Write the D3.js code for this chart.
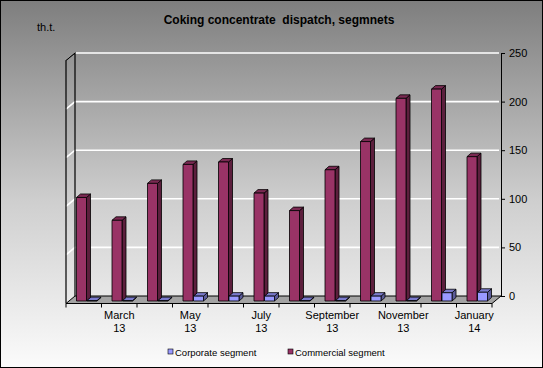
<!DOCTYPE html>
<html><head><meta charset="utf-8">
<script src="https://cdn.jsdelivr.net/npm/d3@7"></script>
<style>body{margin:0;padding:0;overflow:hidden}svg{display:block;font-family:"Liberation Sans",Arial,sans-serif}</style>
</head><body>
<script>
const categories = ["February 13","March 13","April 13","May 13","June 13","July 13","August 13","September 13","October 13","November 13","December 13","January 14"];
const tickLabels = ["", "March\n13", "", "May\n13", "", "July\n13", "", "September\n13", "", "November\n13", "", "January\n14"];
const corporate = [0.4, 0.4, 0.4, 5, 5, 5, 0.4, 0.4, 5, 0.4, 8.5, 9];
const commercial = [106.5, 83, 121, 140.5, 143, 111, 93, 135, 164, 208.5, 218, 148.5];
const yTicks = [0, 50, 100, 150, 200, 250];
const seriesNames = ["Corporate segment", "Commercial segment"];

const W = 543, H = 368;
const svg = d3.select("body").append("svg").attr("width", W).attr("height", H);
const defs = svg.append("defs");
const g = defs.append("linearGradient").attr("id","bg").attr("x1",0).attr("y1",0).attr("x2",0).attr("y2",1);
g.append("stop").attr("offset","0%").attr("stop-color","#7e7e7e");
g.append("stop").attr("offset","55%").attr("stop-color","#cfcfcf");
g.append("stop").attr("offset","100%").attr("stop-color","#fbfbfb");
svg.append("rect").attr("x",0.5).attr("y",0.5).attr("width",W-1).attr("height",H-1).attr("fill","url(#bg)").attr("stroke","#000");

// geometry
const frontY = 303.5, left = 66, right = 492, ddx = 9, ddy = -7.5;
const x = d3.scaleBand().domain(categories).range([left, right]);
const y = d3.scaleLinear().domain([0, 250]).range([frontY + ddy, 53]);   // back wall
const yb = d3.scaleLinear().domain([0, 250]).range([301, 301 - 243]);    // bar front faces

// walls
const backL = left + ddx, backR = right + ddx;
// gridlines on back wall and side wall
svg.append("g").selectAll("path").data(yTicks.filter(t => t > 0)).join("path")
  .attr("d", t => `M${left},${y(t) - ddy}L${backL},${y(t)}L${backR - 2},${y(t)}`)
  .attr("fill","none").attr("stroke","#fff").attr("stroke-width",1.6);
// left wall edges
svg.append("path").attr("d", `M${left},${frontY}L${left},${y(250) - ddy}L${backL},${y(250)}L${backL},${y(0)}`)
  .attr("fill","none").attr("stroke","#000").attr("stroke-width",1.2);
// floor
svg.append("path").attr("d", `M${left},${frontY}L${backL},${y(0)}L${backR},${y(0)}L${right},${frontY}Z`)
  .attr("fill","#a3a3a3").attr("stroke","#000").attr("stroke-width",1);

// right axis
const yAxis = svg.append("g").attr("transform", `translate(${backR},0)`)
  .call(d3.axisRight(y).tickValues(yTicks).tickSize(4).tickPadding(4).tickSizeOuter(0));
yAxis.select(".domain").attr("stroke","#000");
yAxis.selectAll("text").attr("font-size", 11).attr("fill","#000").attr("font-family","Liberation Sans, Arial, sans-serif");

// bottom ticks at category boundaries
const bounds = categories.map(c => x(c)).concat([right]);
svg.append("g").selectAll("line").data(bounds).join("line")
  .attr("x1", d => d).attr("x2", d => d).attr("y1", frontY).attr("y2", frontY + 4)
  .attr("stroke","#000");

// bars
const colors = {
  "Commercial segment": {front:"#993366", side:"#5c1f3d", top:"#7a2952"},
  "Corporate segment": {front:"#9999ff", side:"#5c5c99", top:"#7a7acc"}
};
const bw = 10, bdx = 4, bdy = -3.5;
function drawBar(sel, x0, v, col) {
  const yt = yb(v), y0 = yb(0);
  const gg = sel.append("g").attr("stroke","#000").attr("stroke-width",0.8).attr("stroke-linejoin","round");
  gg.append("path").attr("d", `M${x0+bw},${y0}L${x0+bw+bdx},${y0+bdy}L${x0+bw+bdx},${yt+bdy}L${x0+bw},${yt}Z`).attr("fill", col.side);
  gg.append("path").attr("d", `M${x0},${yt}L${x0+bdx},${yt+bdy}L${x0+bw+bdx},${yt+bdy}L${x0+bw},${yt}Z`).attr("fill", col.top);
  gg.append("rect").attr("x", x0).attr("y", yt).attr("width", bw).attr("height", Math.max(0, y0 - yt)).attr("fill", col.front);
}
const barsG = svg.append("g");
categories.forEach((c, i) => {
  drawBar(barsG, x(c) + 10.5, commercial[i], colors["Commercial segment"]);
  drawBar(barsG, x(c) + 21, corporate[i], colors["Corporate segment"]);
});

// x labels
const xl = svg.append("g").attr("font-size", 11).attr("fill","#000").attr("text-anchor","middle");
categories.forEach((c, i) => {
  if (!tickLabels[i]) return;
  const lines = tickLabels[i].split("\n");
  const t = xl.append("text").attr("x", x(c) + x.bandwidth() / 2).attr("y", 319);
  lines.forEach((l, k) => t.append("tspan").attr("x", x(c) + x.bandwidth() / 2).attr("dy", k ? 12.5 : 0).text(l));
});

// title
svg.append("text").attr("x", 279).attr("y", 24).attr("text-anchor","middle")
  .attr("font-size", 12).attr("font-weight","bold").attr("fill","#000")
  .text("Coking concentrate\u00a0 dispatch, segmnets");
svg.append("text").attr("x", 37).attr("y", 31).attr("font-size", 11).attr("fill","#000").text("th.t.");

// legend
const leg = svg.append("g").attr("font-size", 9.5).attr("fill","#000");
const legX = [168, 288];
seriesNames.forEach((s, i) => {
  leg.append("rect").attr("x", legX[i]).attr("y", 349).attr("width", 5).attr("height", 5)
    .attr("fill", colors[s].front).attr("stroke","#000").attr("stroke-width",0.6);
  leg.append("text").attr("x", legX[i] + 7).attr("y", 355.5).text(s);
});
</script>
</body></html>
